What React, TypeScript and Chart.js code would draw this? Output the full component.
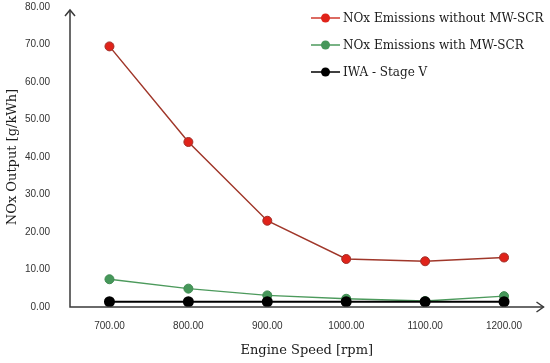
import React, { useEffect, useRef } from "react";
import { Chart, registerables } from "chart.js";

Chart.register(...registerables);

const categories = ["700.00", "800.00", "900.00", "1000.00", "1100.00", "1200.00"];
const withoutScr = [69.5, 44.0, 23.0, 12.8, 12.2, 13.2];
const withScr = [7.4, 4.9, 3.1, 2.2, 1.6, 2.9];
const stageV = [1.4, 1.4, 1.4, 1.4, 1.4, 1.4];
const seriesNames = ["NOx Emissions without MW-SCR", "NOx Emissions with MW-SCR", "IWA - Stage V"];
const yTitle = "NOx Output [g/kWh]";
const xTitle = "Engine Speed [rpm]";

const serif = "'DejaVu Serif', serif";
const sans = "'Liberation Sans', sans-serif";

const axisArrows = {
  id: "axisArrows",
  afterDraw(chart: any) {
    const { ctx, chartArea } = chart;
    const { left, right, top, bottom } = chartArea;
    ctx.save();
    ctx.strokeStyle = "#3a3a3a";
    ctx.lineWidth = 1.5;
    ctx.beginPath();
    ctx.moveTo(left, top + 3);
    ctx.lineTo(left, bottom);
    ctx.lineTo(right, bottom);
    ctx.stroke();
    ctx.beginPath();
    ctx.moveTo(left - 5, top + 9);
    ctx.lineTo(left, top + 3);
    ctx.lineTo(left + 5, top + 9);
    ctx.stroke();
    ctx.beginPath();
    ctx.moveTo(right - 7, bottom - 5);
    ctx.lineTo(right, bottom);
    ctx.lineTo(right - 7, bottom + 5);
    ctx.stroke();
    ctx.restore();
  },
};

const customLegend = {
  id: "customLegend",
  afterDraw(chart: any) {
    const { ctx } = chart;
    ctx.save();
    chart.data.datasets.forEach((ds: any, i: number) => {
      const y = 18 + i * 27;
      ctx.strokeStyle = ds.legendLine;
      ctx.lineWidth = 1.5;
      ctx.beginPath();
      ctx.moveTo(311, y);
      ctx.lineTo(340, y);
      ctx.stroke();
      ctx.fillStyle = ds.pointBackgroundColor;
      ctx.beginPath();
      ctx.arc(325.5, y, 4.5, 0, Math.PI * 2);
      ctx.fill();
      ctx.fillStyle = "#1a1a1a";
      ctx.font = `12px ${serif}`;
      ctx.textBaseline = "middle";
      ctx.textAlign = "left";
      ctx.fillText(ds.label, 343, y + 1);
    });
    ctx.restore();
  },
};

export default function App() {
  const ref = useRef<HTMLCanvasElement>(null);
  useEffect(() => {
    document.body.style.margin = "0";
    const chart = new Chart(ref.current!, {
      type: "line",
      data: {
        labels: categories,
        datasets: [
          {
            label: seriesNames[0],
            data: withoutScr,
            borderColor: "#a0372a",
            borderWidth: 1.5,
            pointBackgroundColor: "#e0231a",
            pointBorderColor: "#a0302a",
            pointBorderWidth: 1,
            pointRadius: 4.5,
            legendLine: "#d03a2e",
          } as any,
          {
            label: seriesNames[1],
            data: withScr,
            borderColor: "#4c9a5c",
            borderWidth: 1.5,
            pointBackgroundColor: "#46975a",
            pointBorderColor: "#3e8a50",
            pointBorderWidth: 1,
            pointRadius: 4.5,
            order: 1,
            legendLine: "#4c9a5c",
          } as any,
          {
            label: seriesNames[2],
            data: stageV,
            borderColor: "#000000",
            borderWidth: 2,
            pointBackgroundColor: "#000000",
            pointBorderColor: "#000000",
            pointRadius: 4.5,
            order: -1,
            legendLine: "#000000",
          } as any,
        ],
      },
      options: {
        animation: false,
        responsive: false,
        layout: { padding: { top: 7, right: 6, left: 0, bottom: 0 } },
        plugins: { legend: { display: false }, tooltip: { enabled: false } },
        scales: {
          x: {
            type: "category",
            offset: true,
            grid: { display: false, drawTicks: false },
            border: { display: false },
            ticks: { padding: 13, color: "#333", font: { family: sans, size: 10 } },
            title: { display: true, text: xTitle, color: "#1a1a1a", font: { family: serif, size: 13 }, padding: { top: 0, bottom: 5 } },
            afterFit(scale: any) {
              scale.height = 56;
              scale.paddingLeft = 0;
              scale.paddingRight = 0;
            },
          },
          y: {
            min: 0,
            max: 80,
            ticks: {
              stepSize: 10,
              padding: 20,
              color: "#333",
              font: { family: sans, size: 10 },
              callback: (v: any) => Number(v).toFixed(2),
            },
            grid: { display: false, drawTicks: false },
            border: { display: false },
            title: { display: true, text: yTitle, color: "#1a1a1a", font: { family: serif, size: 13 }, padding: { top: 5, bottom: 0 } },
            afterFit(scale: any) {
              scale.width = 70;
              scale.paddingTop = 0;
              scale.paddingBottom = 0;
            },
          },
        },
      },
      plugins: [axisArrows, customLegend],
    });
    return () => chart.destroy();
  }, []);
  return (
    <div style={{ width: 550, height: 363 }}>
      <canvas ref={ref} width={550} height={363} style={{ width: 550, height: 363, display: "block" }} />
    </div>
  );
}
